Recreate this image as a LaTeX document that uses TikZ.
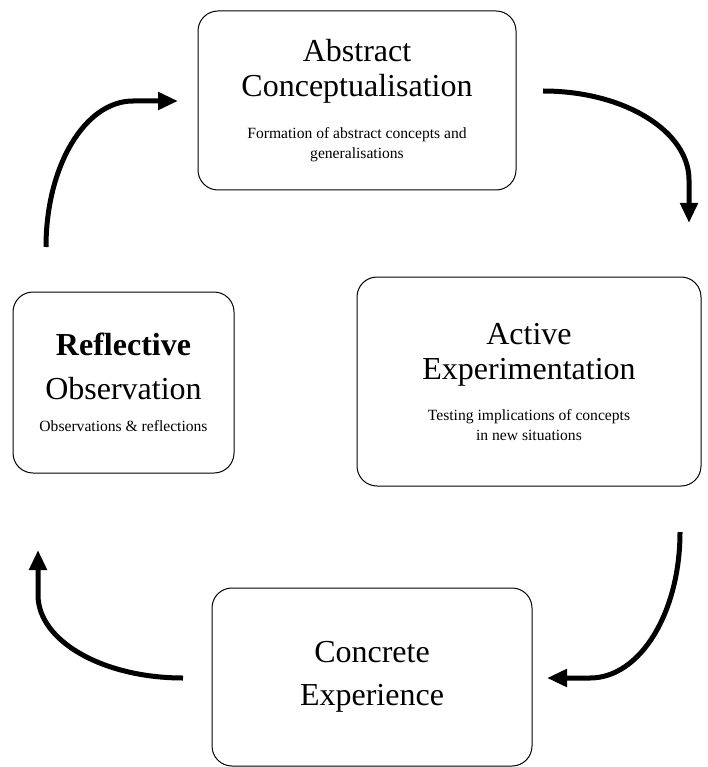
\documentclass[tikz,border=0pt]{standalone}
\usepackage{fontspec}
\setmainfont{Liberation Serif}
\usetikzlibrary{arrows.meta}

\newcommand\subtxt{\fontsize{15.6}{20}\selectfont}

\tikzset{
  stage/.style={draw, line width=1pt, rounded corners=20pt, inner sep=0pt,
    align=center, font=\fontsize{32}{35}\selectfont},
  cyclearrow/.style={line width=5pt, -{Triangle[length=20pt,width=17pt]}}
}

\begin{document}
\begin{tikzpicture}[x=1pt,y=-1pt]
	\useasboundingbox (0,0) rectangle (707,767);

	% le quattro fasi
	\node[stage, minimum width=318pt, minimum height=179pt] (abstract) at (357,100.5)
	  {Abstract\\Conceptualisation\\[7pt]{\subtxt Formation of abstract concepts and}\\[-15pt]{\subtxt generalisations}};
	\node[stage, minimum width=221pt, minimum height=181pt] (reflective) at (123.5,382.5)
	  {\textbf{Reflective}\\[9pt]Observation\\[-3pt]{\subtxt Observations \& reflections}};
	\node[stage, minimum width=344pt, minimum height=209pt] (active) at (529,381.5)
	  {Active\\Experimentation\\[6pt]{\subtxt Testing implications of concepts}\\[-15pt]{\subtxt in new situations}};
	\node[stage, minimum width=320pt, minimum height=178pt] (concrete) at (372,677)
	  {Concrete\\[8pt]Experience};

	% estremi delle frecce
	\coordinate (ro-out) at (46,247);
	\coordinate (ac-in) at (178,101);
	\coordinate (ac-out) at (543,91);
	\coordinate (ae-in) at (689,223);
	\coordinate (ae-out) at (680,532);
	\coordinate (ce-in) at (547,678);
	\coordinate (ce-out) at (183,678);
	\coordinate (ro-in) at (38,550);

	% il ciclo
	\draw[cyclearrow] (ro-out) .. controls (46,166) and (85,101) .. (133,101) -- (ac-in);
	\draw[cyclearrow] (ac-out) .. controls (624,91) and (689,131) .. (689,180) -- (ae-in);
	\draw[cyclearrow] (ae-out) .. controls (680,613) and (640,678) .. (590,678) -- (ce-in);
	\draw[cyclearrow] (ce-out) .. controls (103,678) and (38,641) .. (38,595) -- (ro-in);
\end{tikzpicture}
\end{document}
